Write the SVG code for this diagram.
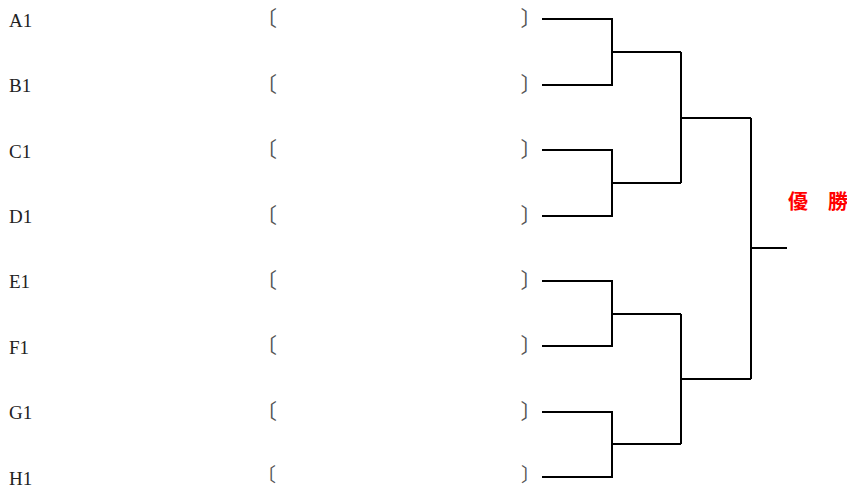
<svg xmlns="http://www.w3.org/2000/svg" width="847" height="488" viewBox="0 0 847 488">
<style>
.lbl{font-family:"Liberation Serif",serif;font-size:19px;fill:#222}
.br{font-family:"Noto Sans CJK JP","Noto Sans CJK SC",sans-serif;font-size:21px;fill:#555}
.ln{fill:none;stroke:#000;stroke-width:2}
.win{font-family:"Noto Sans CJK JP",sans-serif;font-size:20px;font-weight:bold;fill:#ff0000}
</style>
<rect width="847" height="488" fill="#fff"/>
<g id="node-A1"><text class="lbl" x="9" y="26.5">A1</text><text class="br" x="256" y="26">〔</text><text class="br" x="520.5" y="26">〕</text></g>
<g id="node-B1"><text class="lbl" x="9" y="92">B1</text><text class="br" x="256" y="91.5">〔</text><text class="br" x="520.5" y="91.5">〕</text></g>
<g id="node-C1"><text class="lbl" x="9" y="157.5">C1</text><text class="br" x="256" y="157">〔</text><text class="br" x="520.5" y="157">〕</text></g>
<g id="node-D1"><text class="lbl" x="9" y="223">D1</text><text class="br" x="256" y="222.5">〔</text><text class="br" x="520.5" y="222.5">〕</text></g>
<g id="node-E1"><text class="lbl" x="9" y="288">E1</text><text class="br" x="256" y="287.5">〔</text><text class="br" x="520.5" y="287.5">〕</text></g>
<g id="node-F1"><text class="lbl" x="9" y="353.5">F1</text><text class="br" x="256" y="353">〔</text><text class="br" x="520.5" y="353">〕</text></g>
<g id="node-G1"><text class="lbl" x="9" y="419">G1</text><text class="br" x="256" y="418.5">〔</text><text class="br" x="520.5" y="418.5">〕</text></g>
<g id="node-H1"><text class="lbl" x="9" y="484.5">H1</text><text class="br" x="257" y="482" style="font-size:19px">〔</text><text class="br" x="521" y="482" style="font-size:19px">〕</text></g>
<g id="node-winner"><text class="win" x="788" y="209">優　勝</text></g>
<g id="connectors">
<path class="ln" d="M542 19H612V85H542M612 52H681"/>
<path class="ln" d="M542 150H612V216H542M612 183H681"/>
<path class="ln" d="M542 281H612V346H542M612 314H681"/>
<path class="ln" d="M542 412H612V477H542M612 444H681"/>
<path class="ln" d="M681 52V183M681 118H751"/>
<path class="ln" d="M681 314V444M681 379H751"/>
<path class="ln" d="M751 118V379M751 248H787"/>
</g>
</svg>
